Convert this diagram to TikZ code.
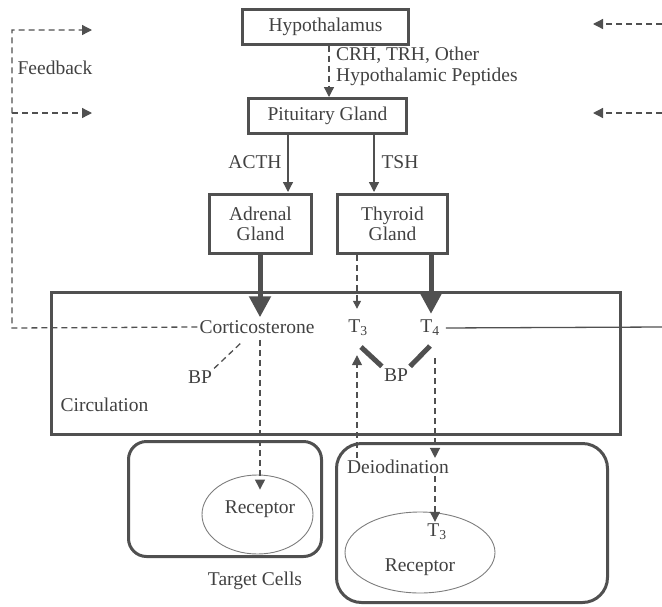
\documentclass[tikz,border=0pt]{standalone}
\usepackage{fontspec}
\setmainfont{Liberation Serif}
\usetikzlibrary{arrows.meta,calc,shapes.geometric}
\definecolor{ink}{RGB}{80,80,80}
\definecolor{txt}{RGB}{65,65,65}
\definecolor{faint}{RGB}{125,125,125}
\begin{document}
\begin{tikzpicture}[x=1pt,y=-1pt,
  font=\fontsize{19.5}{21}\selectfont,
  every node/.style={text=txt},
  box/.style={draw=ink,line width=3pt,inner sep=0pt,align=center,font=\fontsize{19.5}{19.5}\selectfont},
  cell/.style={draw=ink,line width=3pt,inner sep=0pt},
  oval/.style={draw=faint,line width=0.9pt,ellipse,inner sep=0pt},
  lbl/.style={inner sep=2pt,align=center},
  con/.style={draw=ink,line width=1.3pt,-{Triangle[length=10pt,width=10pt]}},
  dcon/.style={con,dash pattern=on 6pt off 4pt},
  sdcon/.style={draw=ink,line width=1.3pt,dash pattern=on 6pt off 4pt,-{Triangle[length=8pt,width=8pt]}},
  dline/.style={draw=ink,line width=1.3pt,dash pattern=on 6pt off 4pt},
  fat/.style={draw=ink,line width=5pt,-{Triangle[length=21pt,width=21pt]}},
  bar/.style={draw=ink,line width=5pt},
  plain/.style={draw=ink,line width=1.3pt}
]
\useasboundingbox (0,0) rectangle (662,606);

% boxes
\node[box,minimum width=166pt,minimum height=35pt] (hyp) at (325.5,26.5) {Hypothalamus};
\node[box,minimum width=158pt,minimum height=35pt] (pit) at (327.5,116) {Pituitary Gland};
\node[box,minimum width=102pt,minimum height=59pt] (adr) at (260.5,224) {Adrenal\\Gland};
\node[box,minimum width=110pt,minimum height=59pt] (thy) at (392.5,224) {Thyroid\\Gland};
\node[cell,minimum width=569pt,minimum height=142pt] (circ) at (336,363.5) {};
\node[cell,rounded corners=18pt,minimum width=193pt,minimum height=115pt] (cellL) at (225,499) {};
\node[cell,rounded corners=25pt,minimum width=271pt,minimum height=159pt] (cellR) at (472,523) {};
\node[oval,minimum width=111pt,minimum height=79pt] (recL) at (257.5,514.5) {};
\node[oval,minimum width=150pt,minimum height=81pt] (recR) at (420,552.5) {};

% labels
\node[lbl,anchor=west,align=left] (crh) at (334,66) {CRH, TRH, Other\\Hypothalamic Peptides};
\node[lbl] (acth) at (255,162) {ACTH};
\node[lbl] (tsh) at (400,162) {TSH};
\node[lbl] (fbk) at (55,68) {Feedback};
\node[lbl] (cort) at (257,327) {Corticosterone};
\node[lbl] (t3) at (358,328) {T\textsubscript{3}};
\node[lbl] (t4) at (430,328) {T\textsubscript{4}};
\node[lbl] (bpL) at (200,377) {BP};
\node[lbl] (bpR) at (396,375) {BP};
\node[lbl] (circlbl) at (104.5,405) {Circulation};
\node[lbl] (recLt) at (260,509) {Receptor};
\node[lbl] (tgt) at (255,581) {Target Cells};
\node[lbl] (deio) at (398,467) {Deiodination};
\node[lbl] (t3r) at (437,532) {T\textsubscript{3}};
\node[lbl] (recRt) at (420,567) {Receptor};

% x positions of connectors
\coordinate (xH) at (329,0);
\coordinate (xA) at (288,0);
\coordinate (xT) at (374,0);
\coordinate (xC) at (260,0);
\coordinate (x3) at (357,0);
\coordinate (x4) at (431,0);
\coordinate (x4d) at (435,0);

% feedback path
\coordinate (fbL) at (12,328);
\coordinate (fbT) at (12,30);
\coordinate (fbM) at (12,113);
\coordinate (fb1) at (92,30);
\coordinate (fb2) at (92,113);
\coordinate (rE1) at (662,24);
\coordinate (rT1) at (593,24);
\coordinate (rE2) at (662,113);
\coordinate (rT2) at (593,113);
\coordinate (edgeR) at (662,327);
\coordinate (bpLend) at (243,341);
\coordinate (barL) at (361,347);
\coordinate (barR) at (430,346);

% connectors
\draw[dcon] (hyp.south -| xH) -- (pit.north -| xH);
\draw[con,shorten >=1pt] (pit.south -| xA) -- (adr.north -| xA);
\draw[con,shorten >=1pt] (pit.south -| xT) -- (thy.north -| xT);
\draw[fat,shorten >=1pt] (adr.south -| xC) -- (cort.north -| xC);
\draw[sdcon,shorten >=9pt] (thy.south -| x3) -- (t3.north -| x3);
\draw[fat,shorten >=4pt] (thy.south -| x4) -- (t4.north -| x4);
\draw[plain,shorten <=4pt] (t4.east) -- (edgeR);

\draw[dcon] (cort.west) -- (fbL) -- (fbT) -- (fb1);
\draw[dcon] (fbM) -- (fb2);
\draw[dcon] (rE1) -- (rT1);
\draw[dcon] (rE2) -- (rT2);

\draw[dline] (bpL.north east) -- (bpLend);
\draw[bar] (barL) -- (bpR.north west);
\draw[bar] (barR) -- (bpR.north east);

\draw[dcon,shorten <=4pt] (cort.south -| xC) -- ($(recL.north -| xC)+(0,15)$);
\draw[dcon,shorten >=17pt] (deio.north -| x3) -- (t3.south -| x3);
\draw[dcon,shorten <=20pt] (t4.south -| x4d) -- (deio.north -| x4d);
\draw[dcon] (deio.south -| x4d) -- (t3r.north -| x4d);
\end{tikzpicture}
\end{document}
